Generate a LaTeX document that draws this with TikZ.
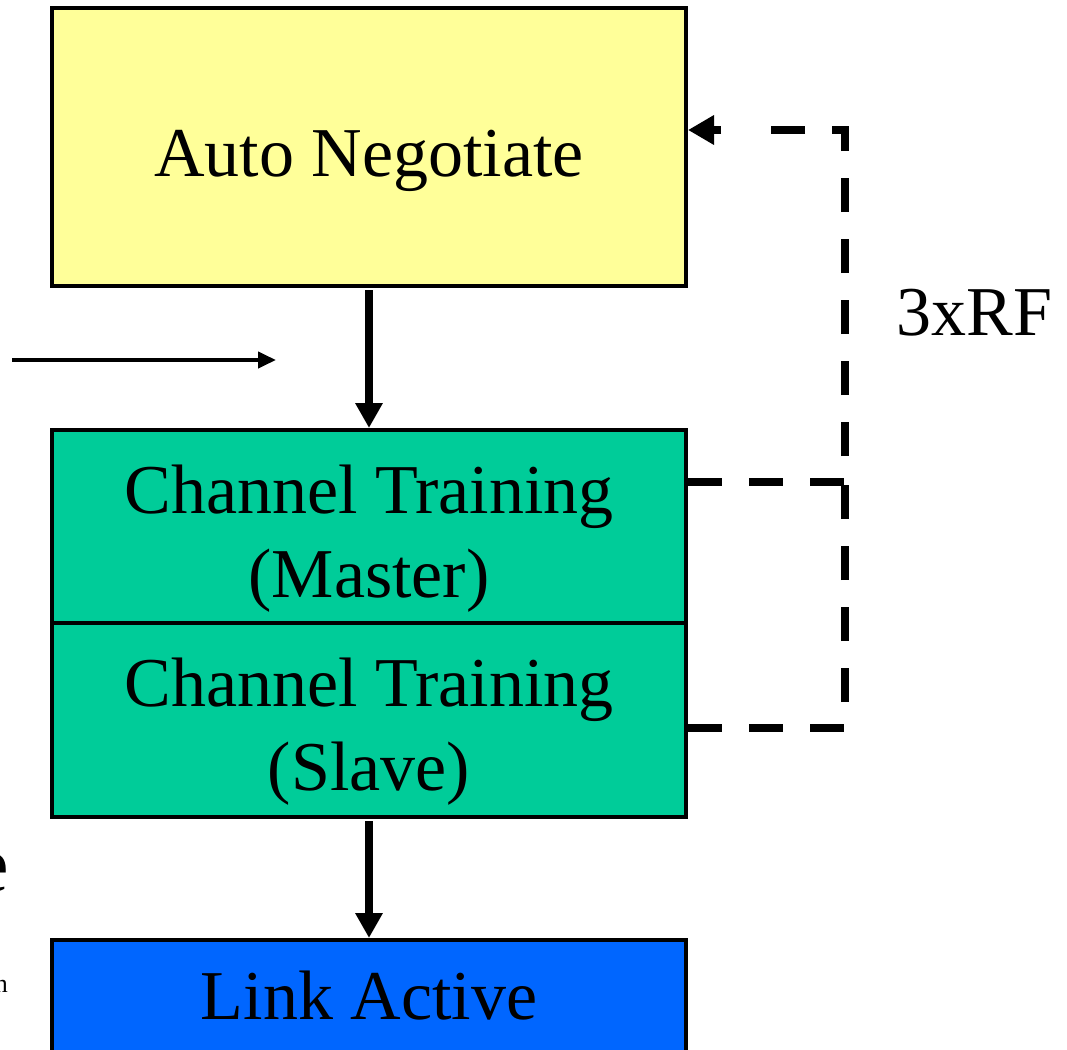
\documentclass[tikz,border=0pt]{standalone}
\usepackage{fontspec}
\setmainfont{Liberation Serif}
\usetikzlibrary{arrows.meta}

\definecolor{negyellow}{RGB}{255,255,153}
\definecolor{traingreen}{RGB}{0,204,153}
\definecolor{linkblue}{RGB}{0,102,255}

\tikzset{
  state/.style={draw, line width=4pt, minimum width=634pt, align=center,
    inner sep=0pt, font=\fontsize{70}{84}\selectfont},
  oneline/.style={text height=58pt, text depth=0pt},
  twoline/.style={text height=141pt, text depth=0pt},
  flow/.style={line width=8pt, -{Triangle[length=25pt, width=26pt]}},
  retry/.style={line width=8pt, dash pattern=on 34pt off 27pt}
}

\begin{document}
\begin{tikzpicture}[x=1pt, y=-1pt, line join=miter]
  \useasboundingbox (0,0) rectangle (1067,1049);

  % States
  \node[state, oneline, fill=negyellow, minimum height=278pt] (auto) at (369,147) {Auto Negotiate};
  \node[state, twoline, fill=traingreen, minimum height=193pt] (master) at (369,526.5) {Channel Training\\(Master)};
  \node[state, twoline, fill=traingreen, minimum height=194pt] (slave) at (369,720) {Channel Training\\(Slave)};
  \node[state, fill=linkblue, minimum height=112pt] (link) at (369,996) {Link Active};

  % Forward transitions
  \draw[flow, shorten <=2pt] (auto.south) -- (master.north);
  \draw[flow, shorten <=2pt] (slave.south) -- (link.north);

  % Incoming arrow on the left
  \coordinate (in0) at (12,360);
  \coordinate (in1) at (276,360);
  \draw[line width=4pt, -{Triangle[length=18pt, width=16pt]}] (in0) -- (in1);

  % Fallback after three failures
  \coordinate (bend) at (845,482);
  \coordinate (top) at (845,130);
  \coordinate (tail) at (721,130);
  \draw[retry] (master.east |- bend) -- (bend) -- (top) -- (748,130);
  \draw[line width=8pt, -{Triangle[length=26pt, width=28pt]}] (tail) -- (auto.east |- tail);
  \draw[retry] (slave.east |- 0,728) -- (845,728) -- (bend);
  \node[font=\fontsize{70}{84}\selectfont, anchor=base west] (rf) at (893,335) {3xRF};

  % Text running in from the left edge
  \node[font=\fontsize{80}{96}\selectfont, anchor=base east, inner sep=0pt] (cute) at (9,891) {e};
  \node[font=\fontsize{26}{30}\selectfont, anchor=base east, inner sep=0pt] (cutn) at (8,992) {n};
\end{tikzpicture}
\end{document}
